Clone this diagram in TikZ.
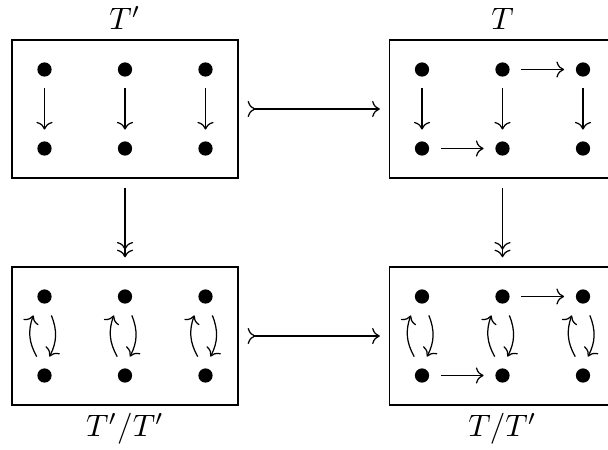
\documentclass[tikz,border=0pt]{standalone}
\usetikzlibrary{arrows.meta,positioning}

\tikzset{
	dot/.style={circle, fill, inner sep=0pt, minimum size=4.6pt, outer sep=3.8pt},
	box/.style={draw, inner sep=0pt, minimum width=72.9pt, minimum height=44.5pt},
	lbl/.style={inner sep=1pt},
	gap/.style={shorten >=2.9pt, shorten <=2.9pt},
}

\begin{document}
\begin{tikzpicture}[x=0.3224pt, y=-0.3224pt, >={Computer Modern Rightarrow}]

\useasboundingbox (0,0) rectangle (608,450);

\foreach \b/\cx/\cy in {tl/125/109, tr/502.5/109, bl/125/336, br/502.5/336}
{
	\node [box] (\b) at (\cx,\cy) {};
	\foreach \i in {1,2,3}
		\foreach \j in {1,2}
			\node [dot] (\b-\i-\j) at (\cx+80.5*\i-161, \cy+79*\j-118.5) {};
}

%this part is only for labelling the boxes
\node [lbl, above=2pt of tl] (tl-label) {$T'$};
\node [lbl, above=2pt of tr] (tr-label) {$T$};
\node [lbl, below=1.3pt of bl] (bl-label) {$T'/T'$};
\node [lbl, below=1.3pt of br] (br-label) {$T/T'$};

%drawing part
\foreach \b in {tl,tr}
	\foreach \i in {1,2,3}
		\draw [->] (\b-\i-1) -- (\b-\i-2);

\foreach \b in {tr,br}
{
	\draw [->] (\b-2-1) -- (\b-3-1);
	\draw [->] (\b-1-2) -- (\b-2-2);
}

\foreach \b in {bl,br}
	\foreach \i in {1,2,3}
	{
		\draw [->] ([xshift=-2.5pt]\b-\i-2.north) to [bend left=25] ([xshift=-3.6pt]\b-\i-1.south);
		\draw [->] ([xshift=2.2pt]\b-\i-1.south) to [bend left=25] ([xshift=1.6pt]\b-\i-2.north);
	}

\draw [>->, gap] (tl) -- (tr);
\draw [>->, gap] (bl) -- (br);
\draw [->>, gap] (tl) -- (bl);
\draw [->>, gap] (tr) -- (br);

\end{tikzpicture}
\end{document}
